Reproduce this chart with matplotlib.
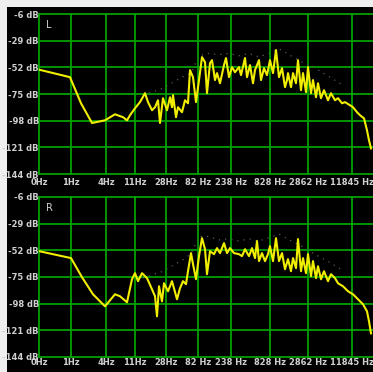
import matplotlib
matplotlib.use("Agg")
import matplotlib.pyplot as plt
from matplotlib.patches import Rectangle

# eje de frecuencias del analizador (columnas de pantalla)
freq_labels = ["0Hz", "1Hz", "4Hz", "11Hz", "28Hz", "82 Hz", "238 Hz", "828 Hz", "2862 Hz", "11845 Hz"]
freq_cols = [0, 32, 67, 96, 127, 159, 192, 231, 269, 313]
db_ticks = [-6, -29, -52, -75, -98, -121, -144]

# canal L
l_col = [0, 31, 42, 53, 66, 76, 84, 88, 91, 96, 101, 106, 109, 113, 116, 119, 121, 124,
         128, 131, 133, 134, 137, 139, 143, 146, 149, 151, 154, 157, 160, 163, 166, 168,
         171, 173, 176, 178, 181, 185, 187, 190, 193, 196, 200, 202, 206, 208, 211, 214,
         216, 220, 222, 225, 228, 231, 234, 237, 240, 243, 246, 248, 249, 252, 254, 257,
         259, 262, 264, 267, 269, 272, 274, 277, 279, 282, 285, 289, 292, 296, 299, 303,
         306, 311, 314, 318, 321, 325, 328, 330, 332]
l_db = [-54, -60.5, -83, -100, -97.7, -92.5, -95, -97.7, -93.3, -87.3, -82, -74.3, -82,
        -89, -86.4, -80.4, -100, -78.6, -89, -77.8, -86.4, -76, -95, -86.4, -90.7, -80.4,
        -83, -54.4, -60.5, -82, -63, -43.2, -47.5, -74.3, -48.4, -45.8, -63, -57, -65.7,
        -50.1, -44, -60.5, -51.8, -56.2, -51.8, -58.7, -44, -60.5, -50.1, -65.7, -54.4,
        -45.8, -63, -52.7, -58.7, -45.8, -57, -37.1, -60.5, -52.7, -69.1, -63, -57, -69.1,
        -57, -65.7, -45.8, -71.7, -57, -73.4, -51.8, -74.3, -63, -77.8, -65.7, -78.6,
        -71.7, -80.4, -74.3, -80.4, -78.6, -83, -82, -84.7, -86.4, -90.7, -93.3, -96,
        -106.3, -115, -121.9]

# canal R
r_col = [0, 32, 43, 54, 66, 76, 81, 88, 93, 96, 99, 103, 108, 113, 116, 118, 120, 123,
         125, 129, 133, 138, 141, 144, 147, 149, 152, 154, 157, 160, 163, 166, 168, 171,
         175, 178, 181, 185, 188, 191, 195, 200, 203, 206, 210, 213, 216, 218, 220, 223,
         226, 229, 231, 234, 237, 240, 243, 246, 249, 252, 254, 257, 259, 262, 264, 267,
         269, 272, 274, 277, 279, 282, 285, 289, 292, 296, 299, 304, 309, 314, 319, 324,
         328, 330, 332]
r_db = [-52.7, -58.7, -75.2, -89.9, -100.3, -89.9, -91.6, -96.8, -76.9, -71.7, -78.6,
        -71.7, -76, -85.6, -91.6, -108.9, -83, -96, -80.4, -87.3, -78.6, -94.2, -84.7,
        -78.6, -81.2, -70, -54.4, -63.9, -76.9, -57, -41.5, -51, -72.6, -52.7, -55.3,
        -50.1, -54.4, -45.8, -54.4, -50.1, -54.4, -55.3, -57, -51, -57, -50.1, -58.7, -44,
        -61.3, -54.4, -61.3, -55.3, -48.4, -61.3, -41.5, -61.3, -54.4, -68.3, -59.6, -70,
        -58.7, -67.4, -42.3, -70, -58.7, -71.7, -55.3, -74.3, -61.3, -76, -65.7, -76.9,
        -70, -78.6, -72.6, -76, -80.4, -83, -87.3, -89.9, -94.2, -98.5, -104.6, -113.2,
        -123.6]

# retencion de picos (puntos grises)
peak_col = [104, 124, 144, 152, 160, 170, 180, 190, 200, 210, 220, 230, 240, 250, 262, 275, 290, 305]
peak_l = [-76, -70, -60, -57, -42, -40, -41, -40, -42, -40, -43, -40, -36, -41, -47, -52, -60, -68]
peak_r = [-76, -70, -60, -55, -40, -40, -43, -42, -44, -42, -44, -41, -38, -43, -48, -55, -62, -70]

W, H = 373, 372
fig = plt.figure(figsize=(W / 100, H / 100), dpi=100, facecolor="#efefef")
fig.patches.append(Rectangle((7 / W, 0), 1, 1 - 7 / H, transform=fig.transFigure,
                             facecolor="black", edgecolor="none", zorder=-1))

font = dict(family=["Liberation Sans Narrow", "DejaVu Sans"], size=6,
            weight="bold", color="#cfcfcf")

paneles = [("L", 174, l_col, l_db, peak_l, 3), ("R", 357, r_col, r_db, peak_r, 1)]
for nombre, fondo, cols, dbs, picos, pad in paneles:
    ax = fig.add_axes([39 / W, 1 - fondo / H, 334 / W, 160 / H])
    ax.set_facecolor("black")
    ax.set_xlim(0, 334)
    ax.set_ylim(-144, -6)
    for s in ax.spines.values():
        s.set_visible(False)
    for c in freq_cols:
        ax.axvline(c, color="#00a000", lw=1.3, clip_on=False, zorder=1)
    for d in db_ticks:
        ax.axhline(d, color="#00a000", lw=1.3, clip_on=False, zorder=1)
    ax.plot(peak_col, picos, color="#5a5a5a", lw=0.9, ls=(0, (1, 4)), zorder=2)
    ax.plot(cols, dbs, color="#f2ee00", lw=1.5, zorder=3)
    ax.set_xticks(freq_cols)
    ax.set_xticklabels(freq_labels, fontdict=font)
    ax.set_yticks(db_ticks)
    ax.set_yticklabels([f"{d} dB" for d in db_ticks], fontdict=font)
    ax.tick_params(length=0)
    ax.tick_params(axis="x", pad=pad)
    ax.tick_params(axis="y", pad=0)
    ax.text(0.022, 0.93, nombre, transform=ax.transAxes, ha="left", va="center",
            color="#cfcfcf", fontsize=7, family="DejaVu Sans")

fig.savefig("out.png", dpi=100, facecolor=fig.get_facecolor())
